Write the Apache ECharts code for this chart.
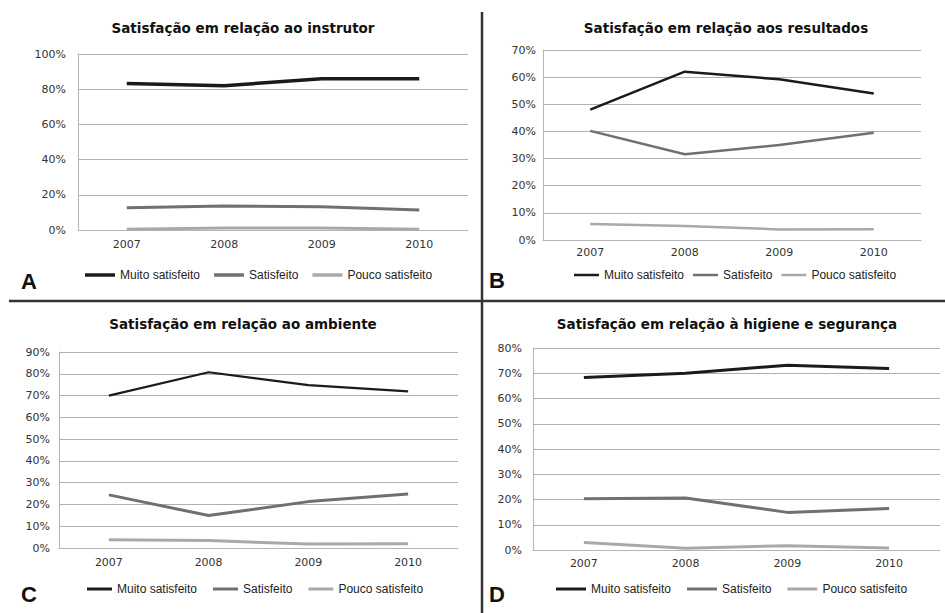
<!DOCTYPE html>
<html>
<head>
<meta charset="utf-8">
<script src="https://cdn.jsdelivr.net/npm/echarts@6/dist/echarts.min.js"></script>
<style>
html,body{margin:0;padding:0;background:#fff;}
#chart{width:945px;height:613px;}
</style>
</head>
<body>
<div id="chart"></div>
<script>
// ---- data ----
var categories = ['2007', '2008', '2009', '2010'];
var seriesNames = ['Muito satisfeito', 'Satisfeito', 'Pouco satisfeito'];

var titles = [
  'Satisfação em relação ao instrutor',
  'Satisfação em relação aos resultados',
  'Satisfação em relação ao ambiente',
  'Satisfação em relação à higiene e segurança'
];
var panelLetters = ['A', 'B', 'C', 'D'];

var instrutorMuito = [83.3, 82.0, 86.0, 86.0];
var instrutorSatisfeito = [12.7, 13.6, 13.2, 11.4];
var instrutorPouco = [0.4, 1.1, 1.1, 0.4];

var resultadosMuito = [48.0, 62.0, 59.2, 54.0];
var resultadosSatisfeito = [40.2, 31.6, 35.0, 39.5];
var resultadosPouco = [5.9, 5.2, 3.9, 4.0];

var ambienteMuito = [70.0, 80.7, 74.8, 71.9];
var ambienteSatisfeito = [24.4, 14.9, 21.3, 24.8];
var ambientePouco = [3.8, 3.4, 1.8, 2.0];

var higieneMuito = [68.3, 70.0, 73.2, 71.9];
var higieneSatisfeito = [20.3, 20.6, 14.9, 16.4];
var higienePouco = [3.0, 0.7, 1.7, 0.8];

var yMax = [100, 70, 90, 80];
var yInterval = [20, 10, 10, 10];

// ---- layout / style ----
var FONT = 'DejaVu Sans';
var LEGEND_FONT = 'Liberation Sans';
var colors = ['#1b1b1b', '#707070', '#a9a9a9'];
var grids = [
  {left: 78, top: 54, width: 390, height: 176},
  {left: 543, top: 50, width: 378, height: 190},
  {left: 59, top: 352, width: 399, height: 196},
  {left: 533, top: 348, width: 407, height: 202}
];
var lineWidths = [[3.5, 3, 3], [2.5, 2.5, 2.5], [2.2, 3, 3], [3, 3, 3]];
var yLabelMargin = [12, 7, 9, 11];
var xLabelMargin = [9, 7, 9, 8];
var titlePos = [[243, 28], [726, 28], [243, 324], [727, 324]];
var letterPos = [[21, 281], [489, 280], [21, 594], [489, 594]];
var legendPos = [[85, 276], [574, 276], [87, 590], [556, 590]];
var legendItemWidth = [30, 25, 25, 30];
var legendItemHeight = [3.5, 2.5, 3, 3];
var legendGap = [14, 9, 16, 16];

var panelData = [
  [instrutorMuito, instrutorSatisfeito, instrutorPouco],
  [resultadosMuito, resultadosSatisfeito, resultadosPouco],
  [ambienteMuito, ambienteSatisfeito, ambientePouco],
  [higieneMuito, higieneSatisfeito, higienePouco]
];

var xAxes = [], yAxes = [], series = [], legends = [], graphics = [];
for (var p = 0; p < 4; p++) {
  xAxes.push({
    type: 'category', gridIndex: p, data: categories, boundaryGap: true,
    axisLine: {lineStyle: {color: '#b5b5b5', width: 1}},
    axisTick: {show: false},
    axisLabel: {color: '#333', fontFamily: FONT, fontSize: 11, margin: xLabelMargin[p]}
  });
  yAxes.push({
    type: 'value', gridIndex: p, min: 0, max: yMax[p], interval: yInterval[p],
    axisLine: {show: true, lineStyle: {color: '#b5b5b5', width: 1}},
    axisTick: {show: false},
    splitLine: {lineStyle: {color: '#b0b0b0', width: 1}},
    axisLabel: {color: '#333', fontFamily: FONT, fontSize: 11, margin: yLabelMargin[p], formatter: '{value}%'}
  });
  for (var s = 0; s < 3; s++) {
    series.push({
      type: 'line', name: seriesNames[s], xAxisIndex: p, yAxisIndex: p,
      data: panelData[p][s], symbol: 'none', smooth: false,
      lineStyle: {color: colors[s], width: lineWidths[p][s]},
      itemStyle: {color: colors[s]},
      z: 10 - s, animation: false
    });
  }
  legends.push({
    data: seriesNames, left: legendPos[p][0], top: legendPos[p][1] - 7, padding: 0,
    itemWidth: legendItemWidth[p], itemHeight: legendItemHeight[p], itemGap: legendGap[p], icon: 'rect',
    textStyle: {color: '#222', fontFamily: LEGEND_FONT, fontSize: 12},
    selectedMode: false
  });
  graphics.push({
    type: 'text', x: titlePos[p][0], y: titlePos[p][1],
    style: {text: titles[p], fill: '#111', font: 'bold 13.5px "' + FONT + '"',
            textAlign: 'center', textVerticalAlign: 'middle'}
  });
  graphics.push({
    type: 'text', x: letterPos[p][0], y: letterPos[p][1],
    style: {text: panelLetters[p], fill: '#111', font: 'bold 22px "Liberation Sans"',
            textAlign: 'left', textVerticalAlign: 'middle'}
  });
}
// separators
graphics.push({type: 'line', shape: {x1: 482, y1: 12, x2: 482, y2: 613}, style: {stroke: '#333', lineWidth: 2.5}});
graphics.push({type: 'line', shape: {x1: 9, y1: 301, x2: 945, y2: 301}, style: {stroke: '#333', lineWidth: 2.5}});

var chart = echarts.init(document.getElementById('chart'), null, {renderer: 'svg'});
chart.setOption({
  animation: false,
  backgroundColor: '#fff',
  grid: grids,
  xAxis: xAxes,
  yAxis: yAxes,
  legend: legends,
  series: series,
  graphic: graphics
});
</script>
</body>
</html>
